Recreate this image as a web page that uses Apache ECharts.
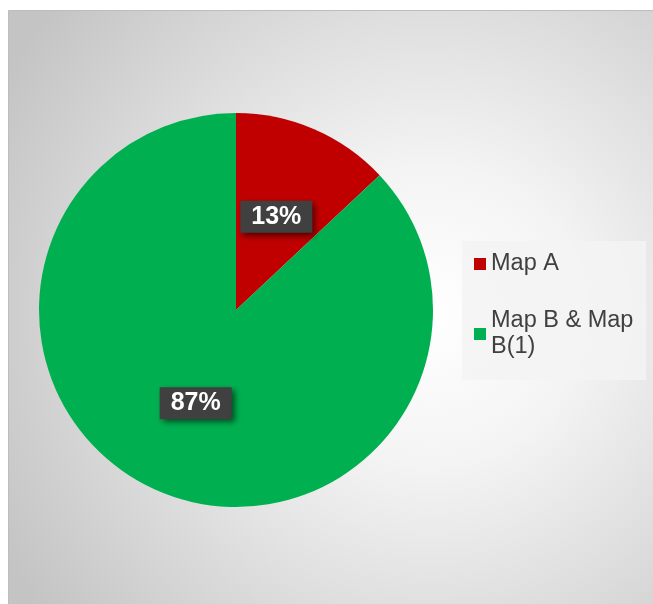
<!DOCTYPE html>
<html>
<head>
<meta charset="utf-8">
<script src="https://cdn.jsdelivr.net/npm/echarts@6/dist/echarts.min.js"></script>
<style>
  html, body { margin: 0; padding: 0; background: #fff; }
  #chart { width: 653px; height: 604px; }
</style>
</head>
<body>
<div id="chart"></div>
<script>
// data
var categories = ['Map A', 'Map B & Map B(1)'];
var shares = [13, 87];
var colors = ['#c00000', '#00b050'];

var chart = echarts.init(document.getElementById('chart'));

var pieData = categories.map(function (name, i) {
    return { name: name, value: shares[i], itemStyle: { color: colors[i] } };
});

var option = {
    animation: false,
    backgroundColor: '#ffffff',
    graphic: [
        {
            type: 'rect',
            z: -10,
            silent: true,
            shape: { x: 8.5, y: 10.5, width: 660, height: 610 },
            style: {
                fill: {
                    type: 'radial', x: 0.64, y: 0.5, r: 0.8,
                    colorStops: [
                        { offset: 0, color: '#ffffff' },
                        { offset: 0.3, color: '#f4f4f4' },
                        { offset: 1, color: '#c4c4c4' }
                    ]
                },
                stroke: '#bdbdbd',
                lineWidth: 1
            }
        }
    ],
    legend: {
        orient: 'vertical',
        left: 462,
        top: 241,
        padding: [10, 6, 7, 12],
        backgroundColor: 'rgba(243,243,243,0.85)',
        itemWidth: 12,
        itemHeight: 12,
        itemGap: 18,
        icon: 'rect',
        selectedMode: false,
        textStyle: {
            fontFamily: 'Liberation Sans, Arial, sans-serif',
            fontSize: 23.5,
            lineHeight: 26,
            color: '#404040',
            width: 149,
            overflow: 'break'
        },
        data: [
            { name: categories[0] },
            { name: categories[1], textStyle: { padding: [26, 0, 0, 0] } }
        ]
    },
    series: [
        {
            type: 'pie',
            center: [236, 310],
            radius: 197,
            startAngle: 90,
            clockwise: true,
            silent: true,
            label: {
                show: true,
                position: 'inside',
                formatter: '{c}%',
                fontFamily: 'Liberation Sans, Arial, sans-serif',
                fontSize: 25,
                fontWeight: 'bold',
                lineHeight: 25,
                color: '#ffffff',
                backgroundColor: '#404040',
                padding: [4, 11, 3, 11],
                shadowColor: 'rgba(0,0,0,0.55)',
                shadowBlur: 6,
                shadowOffsetX: 3,
                shadowOffsetY: 3
            },
            labelLine: { show: false },
            data: pieData
        }
    ]
};

chart.setOption(option);
</script>
</body>
</html>
